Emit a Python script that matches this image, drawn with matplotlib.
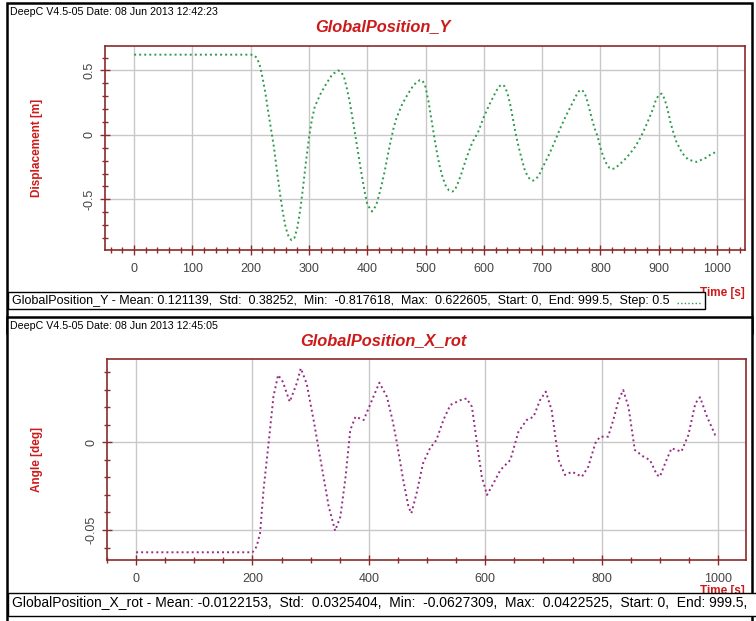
import matplotlib
matplotlib.use("Agg")
import matplotlib.pyplot as plt
from matplotlib.patches import Rectangle
from matplotlib.lines import Line2D
from matplotlib.ticker import MultipleLocator, FuncFormatter

plt.rcParams["font.family"] = ["Liberation Sans", "DejaVu Sans"]

W, H = 756, 621

# GlobalPosition_Y time history [s] / [m]
pos_y_time = [0, 200, 205, 210, 215, 220, 225, 230, 235, 240, 245, 250, 255, 260, 265,
              270, 275, 280, 285, 290, 295, 300, 305, 310, 320, 330, 340, 350, 355, 360,
              365, 370, 375, 380, 385, 390, 395, 400, 408, 415, 420, 425, 430, 435, 440,
              445, 450, 460, 470, 480, 490, 495, 500, 505, 510, 515, 520, 525, 530, 535,
              540, 546, 550, 555, 560, 565, 570, 575, 580, 590, 600, 610, 620, 625, 630,
              635, 640, 645, 650, 655, 660, 665, 670, 675, 680, 685, 690, 695, 700, 710,
              720, 730, 740, 750, 760, 765, 770, 775, 780, 785, 790, 795, 800, 805, 810,
              815, 820, 825, 830, 840, 850, 860, 870, 880, 890, 895, 900, 905, 910, 915,
              920, 925, 930, 940, 950, 960, 965, 970, 980, 990, 999.5]
pos_y_value = [0.6226, 0.6226, 0.62, 0.60, 0.55, 0.45, 0.33, 0.18, 0.04, -0.10, -0.28, -0.45,
               -0.60, -0.72, -0.79, -0.8176, -0.80, -0.72, -0.58, -0.40, -0.20, -0.02, 0.12,
               0.22, 0.32, 0.40, 0.47, 0.50, 0.49, 0.45, 0.36, 0.25, 0.12, -0.02, -0.16, -0.30,
               -0.43, -0.54, -0.595, -0.55, -0.47, -0.38, -0.28, -0.16, -0.05, 0.05, 0.13,
               0.24, 0.32, 0.39, 0.425, 0.42, 0.37, 0.26, 0.12, -0.02, -0.15, -0.26, -0.34,
               -0.40, -0.43, -0.44, -0.43, -0.38, -0.32, -0.25, -0.18, -0.12, -0.06, 0.02,
               0.14, 0.24, 0.33, 0.37, 0.39, 0.38, 0.33, 0.24, 0.12, 0.0, -0.10, -0.19, -0.27,
               -0.32, -0.35, -0.355, -0.34, -0.31, -0.26, -0.17, -0.07, 0.04, 0.14, 0.23, 0.32,
               0.35, 0.34, 0.30, 0.22, 0.13, 0.05, -0.01, -0.10, -0.17, -0.22, -0.255, -0.265,
               -0.26, -0.24, -0.20, -0.15, -0.09, -0.01, 0.09, 0.20, 0.27, 0.31, 0.32, 0.28,
               0.20, 0.10, 0.02, -0.05, -0.14, -0.19, -0.205, -0.21, -0.20, -0.18, -0.15, -0.13]

# GlobalPosition_X_rot time history [s] / [deg]
rot_x_time = [0, 200, 207, 213, 219, 227, 236, 244, 252, 264, 276, 283, 293, 305, 319, 331,
              342, 351, 360, 368, 377, 391, 403, 418, 431, 441, 448, 459, 468, 473, 482, 493,
              505, 516, 528, 540, 557, 568, 577, 585, 594, 603, 614, 626, 643, 657, 671, 683,
              694, 704, 714, 726, 737, 749, 766, 777, 789, 797, 811, 820, 829, 837, 846, 857,
              872, 883, 895, 900, 909, 920, 937, 949, 961, 969, 981, 995, 999.5]
rot_x_value = [-0.0627, -0.0627, -0.0595, -0.0519, -0.027, -0.0025, 0.026, 0.0384, 0.0346,
               0.0231, 0.0336, 0.0422, 0.0336, 0.0127, -0.0139, -0.0367, -0.0504, -0.0424,
               -0.0196, 0.007, 0.0146, 0.0127, 0.0222, 0.034, 0.026, 0.012, 0.0, -0.0215,
               -0.0367, -0.0405, -0.029, -0.012, -0.0034, 0.0013, 0.0127, 0.0213, 0.024, 0.025,
               0.0203, 0.0013, -0.0196, -0.030, -0.0234, -0.0158, -0.0101, 0.006, 0.0127,
               0.0146, 0.024, 0.0289, 0.0184, -0.0101, -0.0186, -0.0168, -0.0196, -0.0139,
               -0.0006, 0.0032, 0.0032, 0.0127, 0.024, 0.0298, 0.0203, -0.0044, -0.0082,
               -0.0101, -0.0186, -0.0196, -0.012, -0.0034, -0.0053, 0.0042, 0.0222, 0.0257,
               0.0146, 0.0042, 0.004]

MAROON = "#8b2a2a"
RED = "#cc1a1a"
TICK_TEXT = "#444444"


def fx(x):
    return x / W


def fy(y):
    return 1 - y / H


def add_box(fig, x0, y0, x1, y1, lw=1.6, zorder=1):
    rect = Rectangle((fx(x0), fy(y1)), (x1 - x0) / W, (y1 - y0) / H,
                     transform=fig.transFigure, facecolor="white",
                     edgecolor="black", linewidth=lw, zorder=zorder)
    fig.patches.append(rect)


def draw_panel(fig, top, ax_px, xlim, ylim, x_major, x_minor, y_major, y_minor,
               header, title, ylabel, t, v, color, stats, stats_box, stats_size, time_y):
    add_box(fig, 7, top, 752, top + 330, lw=1.8, zorder=-2)
    fig.text(fx(10), fy(top + 9), header, fontsize=7.7, va="center", ha="left")
    fig.text(fx(383), fy(top + 24), title, fontsize=11.8, color=RED,
             fontweight="bold", fontstyle="italic", ha="center", va="center")

    left, top_ax, right, bottom = ax_px
    ax = fig.add_axes([fx(left), fy(bottom), (right - left) / W, (bottom - top_ax) / H])
    ax.plot(t, v, color=color, linewidth=1.4, linestyle=(0, (1, 1.6)))
    ax.set_xlim(*xlim)
    ax.set_ylim(*ylim)

    ax.xaxis.set_major_locator(MultipleLocator(x_major))
    ax.xaxis.set_minor_locator(MultipleLocator(x_minor))
    ax.yaxis.set_major_locator(MultipleLocator(y_major))
    ax.yaxis.set_minor_locator(MultipleLocator(y_minor))
    ax.yaxis.set_major_formatter(FuncFormatter(lambda val, pos: "%g" % round(val, 6)))
    ax.grid(True, which="major", color="#c8c8c8", linewidth=1.0)
    ax.set_axisbelow(True)
    for side in ("top", "right", "left", "bottom"):
        ax.spines[side].set_color(MAROON)
        ax.spines[side].set_linewidth(1.2)
    ax.tick_params(which="both", direction="inout", color=MAROON, width=1.0,
                   labelsize=9, labelcolor=TICK_TEXT)
    ax.tick_params(which="major", length=7)
    ax.tick_params(which="minor", length=5)
    ax.tick_params(axis="x", pad=6)
    ax.tick_params(axis="y", pad=3, labelrotation=90)
    for lbl in ax.get_yticklabels():
        lbl.set_va("center")

    fig.text(fx(37), fy((top_ax + bottom) / 2), ylabel, rotation=90, fontsize=8.5,
             fontweight="bold", color=RED, ha="center", va="center")
    fig.text(fx(722), fy(time_y), "Time [s]", fontsize=8.5, fontweight="bold",
             color=RED, ha="center", va="center", zorder=1)

    # statistics strip, with a short sample of the curve's line style after the text
    bx0, by0, bx1, by1 = stats_box
    add_box(fig, bx0, by0, bx1, by1, lw=1.0, zorder=3)
    fig.text(fx(12), fy(by0 + 9), stats, fontsize=stats_size, ha="left", va="center",
             zorder=4)
    fig.lines.append(Line2D([fx(bx1 - 28), fx(bx1 - 3)], [fy(by0 + 11)] * 2,
                            transform=fig.transFigure, color=color, linewidth=1.0,
                            linestyle=(0, (1, 1.6)), zorder=5))
    return ax


fig = plt.figure(figsize=(W / 100, H / 100), dpi=100)

draw_panel(fig, 3, (105, 46, 745, 250), (-50, 1048), (-0.894, 0.69), 100, 20, 0.5, 0.1,
           "DeepC V4.5-05 Date: 08 Jun 2013 12:42:23", "GlobalPosition_Y",
           "Displacement [m]", pos_y_time, pos_y_value, "#2e9a4c",
           "GlobalPosition_Y - Mean: 0.121139,  Std:  0.38252,  Min:  -0.817618,  "
           "Max:  0.622605,  Start: 0,  End: 999.5,  Step: 0.5",
           (8, 292, 705, 309), 9.0, 293)

draw_panel(fig, 317, (107, 359, 746, 560), (-50, 1048), (-0.0671, 0.0475), 200, 50, 0.05,
           0.01, "DeepC V4.5-05 Date: 08 Jun 2013 12:45:05", "GlobalPosition_X_rot",
           "Angle [deg]", rot_x_time, rot_x_value, "#962d82",
           "GlobalPosition_X_rot - Mean: -0.0122153,  Std:  0.0325404,  Min:  -0.0627309,  "
           "Max:  0.0422525,  Start: 0,  End: 999.5,",
           (8, 593, 840, 616), 10.0, 591)

fig.savefig("out.png", dpi=100)
